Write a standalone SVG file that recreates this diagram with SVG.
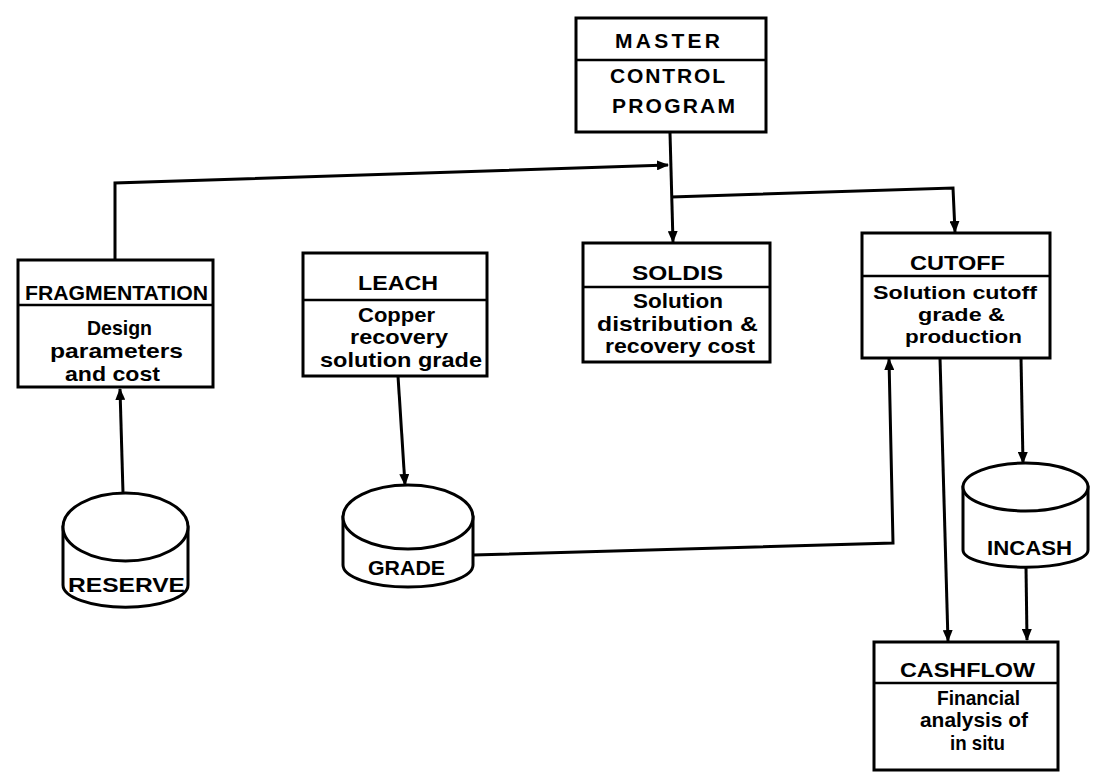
<svg xmlns="http://www.w3.org/2000/svg" width="1097" height="775" viewBox="0 0 1097 775">
<style>
.box{fill:#fff;stroke:#000;stroke-width:3}
.div{stroke:#000;stroke-width:2.5;fill:none}
.cyl{fill:#fff;stroke:#000;stroke-width:3}
.t{font-family:"Liberation Sans",Arial,sans-serif;font-weight:bold;font-size:21px;fill:#000}
.s{font-size:19px}
.c{stroke:#000;stroke-width:3;fill:none;stroke-linejoin:miter}
</style>
<defs>
<marker id="ah" viewBox="0 0 12 10" refX="11" refY="5" markerWidth="12" markerHeight="10" markerUnits="userSpaceOnUse" orient="auto">
<path d="M0,0 L12,5 L0,10 Z" fill="#000"/>
</marker>
</defs>
<rect width="1097" height="775" fill="#fff"/>

<g id="connectors">
<path class="c" d="M115,260 L115,183 L668,165" marker-end="url(#ah)"/>
<path class="c" d="M670,133 L673,242" marker-end="url(#ah)"/>
<path class="c" d="M671,197 L953,188 L955,232" marker-end="url(#ah)"/>
<path class="c" d="M123,493 L120,389" marker-end="url(#ah)"/>
<path class="c" d="M398,376 L405,485" marker-end="url(#ah)"/>
<path class="c" d="M473,555 L893,543 L889,359" marker-end="url(#ah)"/>
<path class="c" d="M940,358 L948,641" marker-end="url(#ah)"/>
<path class="c" d="M1021,358 L1023,463" marker-end="url(#ah)"/>
<path class="c" d="M1026,567 L1027,640" marker-end="url(#ah)"/>
</g>

<g id="master">
<rect class="box" x="576" y="18" width="190" height="114"/>
<line class="div" x1="576" y1="60" x2="766" y2="60"/>
<text class="t" x="615" y="48" textLength="105" lengthAdjust="spacing">MASTER</text>
<text class="t" x="610" y="83" textLength="115" lengthAdjust="spacing">CONTROL</text>
<text class="t" x="612" y="113" textLength="123" lengthAdjust="spacing">PROGRAM</text>
</g>

<g id="fragmentation">
<rect class="box" x="18" y="260" width="195" height="127"/>
<line class="div" x1="18" y1="305" x2="213" y2="305"/>
<text class="t" x="25" y="300" textLength="183" lengthAdjust="spacingAndGlyphs">FRAGMENTATION</text>
<text class="t" x="87" y="335" textLength="65" lengthAdjust="spacingAndGlyphs">Design</text>
<text class="t" x="50" y="358" textLength="133" lengthAdjust="spacingAndGlyphs">parameters</text>
<text class="t" x="65" y="381" textLength="95" lengthAdjust="spacingAndGlyphs">and cost</text>
</g>

<g id="leach">
<rect class="box" x="303" y="253" width="184" height="123"/>
<line class="div" x1="303" y1="300" x2="487" y2="300"/>
<text class="t" x="358" y="290" textLength="80" lengthAdjust="spacingAndGlyphs">LEACH</text>
<text class="t" x="358" y="322" textLength="77" lengthAdjust="spacingAndGlyphs">Copper</text>
<text class="t" x="350" y="344" textLength="98" lengthAdjust="spacingAndGlyphs">recovery</text>
<text class="t" x="320" y="367" textLength="162" lengthAdjust="spacingAndGlyphs">solution grade</text>
</g>

<g id="soldis">
<rect class="box" x="583" y="243" width="187" height="119"/>
<line class="div" x1="583" y1="287" x2="770" y2="287"/>
<text class="t" x="632" y="280" textLength="91" lengthAdjust="spacingAndGlyphs">SOLDIS</text>
<text class="t" x="633" y="308" textLength="90" lengthAdjust="spacingAndGlyphs">Solution</text>
<text class="t" x="597" y="331" textLength="161" lengthAdjust="spacingAndGlyphs">distribution &amp;</text>
<text class="t" x="605" y="353" textLength="150" lengthAdjust="spacingAndGlyphs">recovery cost</text>
</g>

<g id="cutoff">
<rect class="box" x="862" y="233" width="188" height="125"/>
<line class="div" x1="862" y1="276" x2="1050" y2="276"/>
<text class="t" x="910" y="270" textLength="95" lengthAdjust="spacingAndGlyphs">CUTOFF</text>
<text class="t s" x="873" y="299" textLength="164" lengthAdjust="spacingAndGlyphs">Solution cutoff</text>
<text class="t s" x="918" y="321" textLength="87" lengthAdjust="spacingAndGlyphs">grade &amp;</text>
<text class="t s" x="905" y="343" textLength="117" lengthAdjust="spacingAndGlyphs">production</text>
</g>

<g id="cashflow">
<rect class="box" x="874" y="642" width="184" height="128"/>
<line class="div" x1="874" y1="683" x2="1058" y2="683"/>
<text class="t" x="900" y="677" textLength="135" lengthAdjust="spacingAndGlyphs">CASHFLOW</text>
<text class="t" x="937" y="705" textLength="83" lengthAdjust="spacingAndGlyphs">Financial</text>
<text class="t" x="920" y="727" textLength="108" lengthAdjust="spacingAndGlyphs">analysis of</text>
<text class="t" x="950" y="750" textLength="55" lengthAdjust="spacingAndGlyphs">in situ</text>
</g>

<g id="reserve">
<path class="cyl" d="M63,527 L63,585 A62,22 0 0 0 188,585 L188,527 Z"/>
<ellipse class="cyl" cx="125.5" cy="527" rx="62.5" ry="34"/>
<text class="t" x="68" y="592" textLength="117" lengthAdjust="spacingAndGlyphs">RESERVE</text>
</g>

<g id="grade">
<path class="cyl" d="M343,517 L343,565 A65,22 0 0 0 473,565 L473,517 Z"/>
<ellipse class="cyl" cx="408" cy="517" rx="65" ry="32"/>
<text class="t" x="368" y="575" textLength="77" lengthAdjust="spacingAndGlyphs">GRADE</text>
</g>

<g id="incash">
<path class="cyl" d="M963,487 L963,550 A62,17 0 0 0 1088,550 L1088,487 Z"/>
<ellipse class="cyl" cx="1025.5" cy="487" rx="62.5" ry="24"/>
<text class="t" x="987" y="555" textLength="85" lengthAdjust="spacingAndGlyphs">INCASH</text>
</g>
</svg>
